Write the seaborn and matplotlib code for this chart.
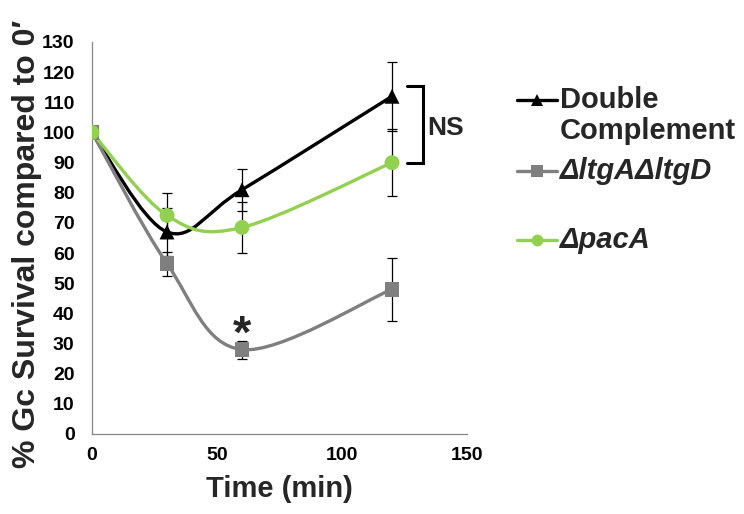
import numpy as np
import pandas as pd
import matplotlib
matplotlib.use("Agg")
import matplotlib.pyplot as plt
from matplotlib.path import Path
from matplotlib.patches import PathPatch
from matplotlib.lines import Line2D
import seaborn as sns

# ---------------- data ----------------
times = [0, 30, 60, 120]
series_names = ["Double\nComplement", "ΔltgAΔltgD", "ΔpacA"]
double_vals = [100, 67, 81, 112]
double_err = [0, 8, 7, 11.5]
ltg_vals = [100, 56.5, 28, 48]
ltg_err = [0, 4, 3, 10.5]
pac_vals = [100, 72.5, 68.5, 90]
pac_err = [0, 7.5, 8.5, 11]
yticks = list(range(0, 131, 10))
xticks = [0, 50, 100, 150]

colors = ["#000000", "#7f7f7f", "#92d050"]
markers = ["^", "s", "o"]
values = [double_vals, ltg_vals, pac_vals]
errors = [double_err, ltg_err, pac_err]

df = pd.DataFrame({
    "time": times * 3,
    "value": double_vals + ltg_vals + pac_vals,
    "series": sum([[n] * len(times) for n in series_names], []),
})

sns.set_theme(style="white")
plt.rcParams["font.family"] = ["Liberation Sans", "DejaVu Sans"]
plt.rcParams["font.weight"] = "bold"

fig = plt.figure(figsize=(7.44, 5.14), dpi=100)
ax = fig.add_axes([92 / 744, 1 - 434 / 514, 375 / 744, 392 / 514])


def smooth_path(xs, ys):
    """Excel-style smoothed line as cubic Bezier segments through the data points."""
    pts = np.column_stack([xs, ys]).astype(float)
    n = len(pts)
    verts = [pts[0]]
    codes = [Path.MOVETO]
    for i in range(n - 1):
        p0 = pts[i - 1] if i > 0 else pts[i]
        p1 = pts[i]
        p2 = pts[i + 1]
        p3 = pts[i + 2] if i + 2 < n else pts[i + 1]
        c1 = p1 + (p2 - p0) / 6.0
        c2 = p2 - (p3 - p1) / 6.0
        verts += [c1, c2, p2]
        codes += [Path.CURVE4] * 3
    return Path(verts, codes)


for i, name in enumerate(series_names):
    sub = df[df["series"] == name]
    patch = PathPatch(smooth_path(sub["time"], sub["value"]), facecolor="none",
                      edgecolor=colors[i], lw=2.4, zorder=2 + i, capstyle="round")
    ax.add_patch(patch)
    ax.errorbar(times, values[i], yerr=errors[i], fmt="none", ecolor="black",
                elinewidth=0.9, capsize=3.5, capthick=0.9, zorder=2 + i)

sns.scatterplot(data=df, x="time", y="value", hue="series", style="series",
                palette=colors, markers=markers, hue_order=series_names,
                style_order=series_names, s=115, edgecolor="none",
                legend=False, ax=ax, zorder=6)

ax.set_xlim(0, 150)
ax.set_ylim(0, 130)
ax.set_xticks(xticks)
ax.set_yticks(yticks)
ax.tick_params(axis="both", which="both", direction="out", length=4.5, width=0.9,
               color="#868686", labelsize=14, labelcolor="black")
ax.tick_params(axis="y", pad=8)
ax.tick_params(axis="x", pad=5)
for lab in ax.get_xticklabels() + ax.get_yticklabels():
    lab.set_fontweight("bold")
for s in ["top", "right"]:
    ax.spines[s].set_visible(False)
for s in ["left", "bottom"]:
    ax.spines[s].set_color("#868686")
    ax.spines[s].set_linewidth(0.9)
ax.set_facecolor("white")

ax.set_xlabel("Time (min)", fontsize=21, fontweight="bold", labelpad=8)
ax.set_ylabel("% Gc Survival compared to 0′", fontsize=23, fontweight="bold")
ax.yaxis.set_label_coords(-0.133, 0.486)

# significance marks
ax.text(60, 32.5, "*", fontsize=34, fontweight="bold", ha="center", va="center")
ax.plot([126, 132.4, 132.4, 126], [115.5, 115.5, 89.8, 89.8], color="black",
        lw=2.2, clip_on=False, solid_joinstyle="miter")
ax.text(134.0, 101.5, "NS", fontsize=19, fontweight="bold", ha="left", va="center")

# legend (manual, Excel-like: marker aligned to first text line)
W, H = 744, 514
leg_items = [(100, 0, "Double", "normal"), (171, 1, "ΔltgAΔltgD", "italic"), (240, 2, "ΔpacA", "italic")]
for y, i, txt, style in leg_items:
    fig.add_artist(Line2D([517 / W, 557 / W], [1 - y / H, 1 - y / H], color=colors[i], lw=2.4,
                          transform=fig.transFigure))
    fig.add_artist(Line2D([537 / W], [1 - y / H], color=colors[i], marker=markers[i],
                          markersize=8.5, markeredgewidth=0, transform=fig.transFigure))
    fig.text(560 / W, 1 - y / H, txt, fontsize=21, fontweight="bold", style=style,
             ha="left", va="center")
fig.text(560 / W, 1 - 131 / H, "Complement", fontsize=21, fontweight="bold", ha="left", va="center")

fig.savefig("out.png", dpi=100, facecolor="white")
